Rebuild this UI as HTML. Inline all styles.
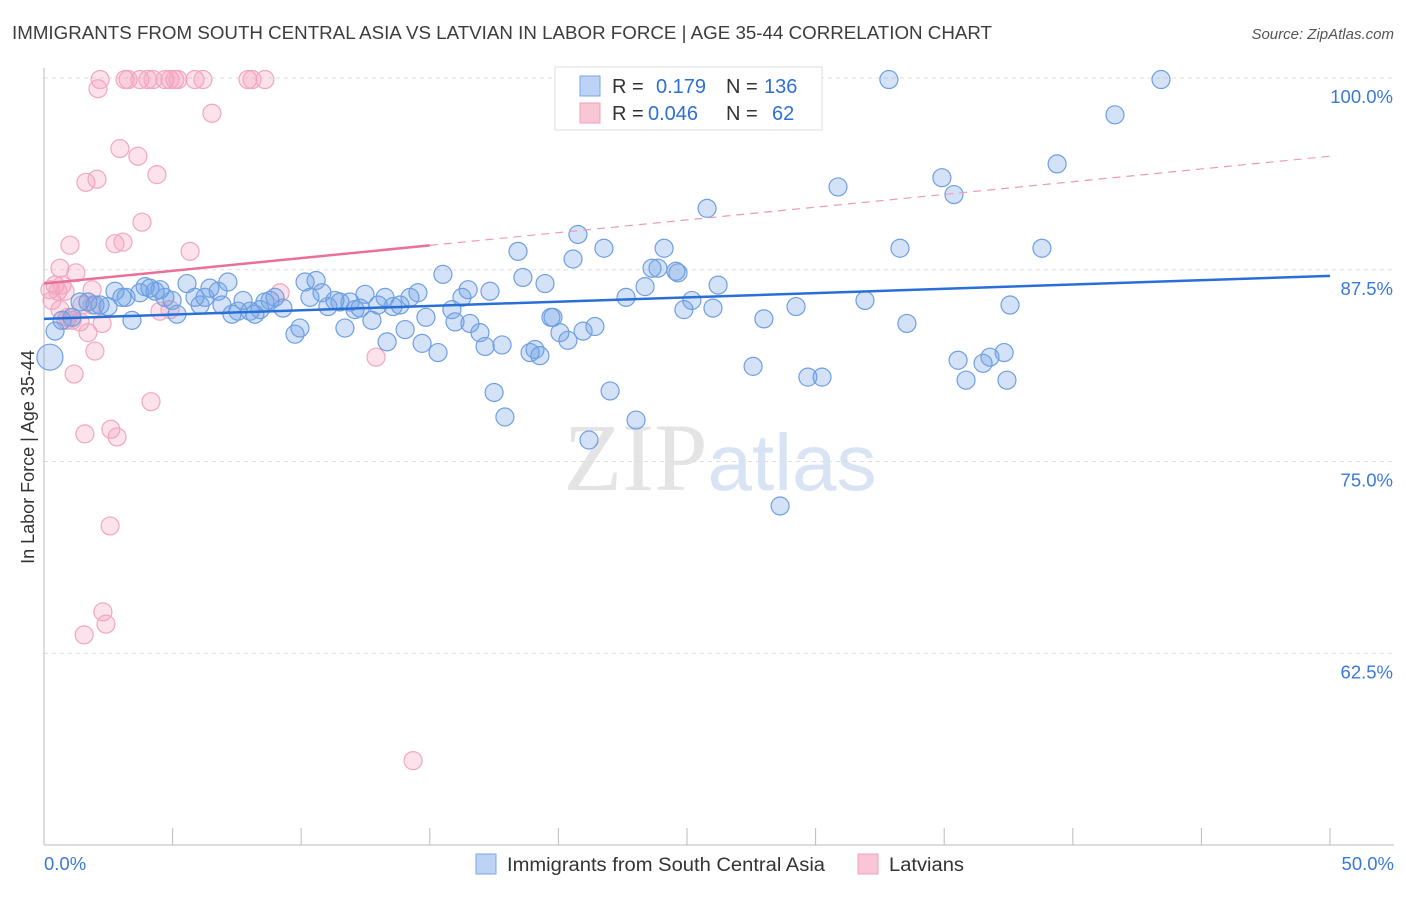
<!DOCTYPE html>
<html><head><meta charset="utf-8"><style>
body{margin:0;background:#fff;font-family:"Liberation Sans",sans-serif}
</style></head><body>
<svg id="chart" width="1406" height="892" xmlns="http://www.w3.org/2000/svg" font-family="Liberation Sans, sans-serif">
<text x="12" y="39" font-size="18" fill="#3c3c3c" textLength="980" lengthAdjust="spacingAndGlyphs">IMMIGRANTS FROM SOUTH CENTRAL ASIA VS LATVIAN IN LABOR FORCE | AGE 35-44 CORRELATION CHART</text>
<text x="1394" y="39" font-size="15" fill="#555" text-anchor="end" font-style="italic">Source: ZipAtlas.com</text>
<text x="720" y="490" font-size="96" text-anchor="middle" fill="#e4e4e4" font-family="Liberation Serif, serif">ZIP<tspan fill="#d8e4f4" font-family="Liberation Sans, sans-serif" font-size="80">atlas</tspan></text>
<text transform="translate(34,457) rotate(-90)" font-size="18" fill="#333" text-anchor="middle">In Labor Force | Age 35-44</text>
<g id="grid"></g>
<g id="axes"></g>
<g id="pts"></g>
<g id="trend"></g>
<g>
<rect x="555" y="67" width="267" height="63" fill="#fff" stroke="#ddd"/>
<rect x="580" y="76" width="20" height="20" fill="#bcd3f5" stroke="#7aa6e6"/>
<rect x="580" y="103" width="20" height="20" fill="#f9c6d6" stroke="#f0a0b8"/>
<text x="612" y="93" font-size="20" fill="#333">R = <tspan x="656" fill="#2e6fd6">0.179</tspan><tspan x="726" fill="#333">N = </tspan><tspan x="764" fill="#2e6fd6">136</tspan></text>
<text x="612" y="120" font-size="20" fill="#333">R = <tspan x="648" fill="#2e6fd6">0.046</tspan><tspan x="726" fill="#333">N = </tspan><tspan x="772" fill="#2e6fd6">62</tspan></text>
</g>
<g>
<rect x="476" y="854" width="20" height="20" fill="#bcd3f5" stroke="#7aa6e6"/>
<text x="507" y="871" font-size="19" fill="#333" textLength="318" lengthAdjust="spacingAndGlyphs">Immigrants from South Central Asia</text>
<rect x="858" y="854" width="20" height="20" fill="#f9c6d6" stroke="#f0a0b8"/>
<text x="889" y="871" font-size="19" fill="#333" textLength="75" lengthAdjust="spacingAndGlyphs">Latvians</text>
</g>
</svg>
<script>
const blueX=[.23,.43,.70,1.09,1.40,1.71,1.98,2.18,2.49,2.76,3.03,3.19,3.42,3.73,3.93,4.12,4.32,4.51,4.70,4.98,5.17,5.56,5.87,6.07,6.26,6.45,6.77,6.92,7.15,7.31,7.54,7.74,8.01,8.20,8.40,8.59,8.79,8.98,9.29,9.76,9.95,10.15,10.34,10.58,10.81,11.04,11.31,11.51,11.70,11.90,12.09,12.29,12.48,12.75,12.99,13.26,13.34,13.57,13.84,14.04,14.23,14.54,14.70,14.85,15.32,15.51,15.86,15.98,16.25,16.49,16.56,16.95,17.15,17.34,17.50,17.81,17.92,18.43,18.62,18.90,19.09,19.28,19.48,19.71,19.79,20.06,20.37,20.57,20.76,20.96,21.42,21.77,22.01,22.63,23.02,23.37,23.64,23.87,24.11,24.57,24.65,24.88,25.19,25.78,26.01,26.21,27.57,27.99,29.24,29.70,30.25,30.87,31.92,32.85,33.28,33.55,34.91,35.38,35.54,35.85,36.51,36.78,37.33,37.44,37.56,38.80,39.39,41.64,43.43,21.19,28.62];
const blueY=[81.8,83.5,84.2,84.4,85.4,85.4,85.2,85.2,85.1,86.1,85.7,85.7,84.2,86.0,86.4,86.3,86.1,86.2,85.7,85.5,84.6,86.6,85.7,85.2,85.7,86.3,86.1,85.2,86.7,84.6,84.8,85.5,84.8,84.6,84.9,85.4,85.5,85.7,85.0,83.3,83.7,86.7,85.7,86.8,86.0,85.1,85.5,85.4,83.7,85.4,84.9,85.0,85.9,84.2,85.2,85.7,82.8,85.1,85.2,83.6,85.7,86.0,82.7,84.4,82.1,87.2,84.9,84.1,85.7,86.2,84.0,83.4,82.5,86.1,79.5,82.6,77.9,88.7,87.0,82.1,82.3,81.9,86.6,84.4,84.4,83.4,82.9,88.2,89.8,83.5,83.8,88.9,79.6,85.7,77.7,86.4,87.6,87.6,88.9,87.4,87.3,84.9,85.5,91.5,85.0,86.5,81.2,84.3,85.1,80.5,80.5,92.9,85.5,99.9,88.9,84.0,93.5,92.4,81.6,80.3,81.4,81.8,82.1,80.3,85.2,88.9,94.4,97.6,99.9,76.4,72.1];
const pinkX=[.23,.31,.43,.54,.62,.70,.82,.93,1.01,1.09,1.17,1.24,1.40,1.48,1.56,1.59,1.63,1.71,1.87,1.98,2.06,2.10,2.18,2.26,2.29,2.41,2.57,2.60,2.76,2.84,2.95,3.07,3.15,3.27,3.65,3.73,3.81,4.04,4.16,4.24,4.39,4.70,4.90,5.09,5.21,5.68,5.87,6.18,6.53,7.93,8.09,8.59,12.91,14.35,9.18,4.51,4.90,.62,.86,1.87];
const pinkY=[86.2,85.5,86.5,86.1,87.6,86.5,86.1,84.4,89.1,84.2,80.7,87.3,84.1,85.2,63.7,76.8,93.2,83.4,85.2,82.2,93.4,99.3,99.9,84.0,65.2,64.4,70.8,77.1,89.2,76.6,95.4,89.3,99.9,99.9,94.9,99.9,90.6,99.9,78.9,99.9,93.7,99.9,99.9,99.9,99.9,88.7,99.9,99.9,97.7,99.9,99.9,99.9,81.8,55.5,86.0,84.8,84.9,84.9,84.2,86.2];
const yTicks=[100,87.5,75,62.5];
const yTickLabels=["100.0%","87.5%","75.0%","62.5%"];
const xTickVals=[0,5,10,15,20,25,30,35,40,45,50];
const blueTrend=[84.3,87.1];
const pinkTrend=[86.6,94.9];
const pinkSolidEnd=15;

const X0=44,X1=1330,Y0=845,Y1=78;
const sx=v=>X0+(v/50)*(X1-X0);
const sy=v=>Y0-((v-50)/50)*(Y0-Y1);
const NS="http://www.w3.org/2000/svg";
function mk(tag,attrs,parent){const e=document.createElementNS(NS,tag);for(const k in attrs)e.setAttribute(k,attrs[k]);parent.appendChild(e);return e;}
const grid=document.getElementById('grid'),axes=document.getElementById('axes'),pts=document.getElementById('pts'),trend=document.getElementById('trend');
yTicks.forEach((t,i)=>{
  const l=mk('line',{x1:X0,x2:1394,y1:sy(t),y2:sy(t),stroke:'#ddd','stroke-dasharray':'4,4'},grid);
  
  
  const tx=mk('text',{x:1393,y:sy(t)+25,'font-size':18.5,fill:'#3a78d8','text-anchor':'end'},grid);
  tx.textContent=yTickLabels[i];
  
  
});
const ya=mk('line',{x1:X0,x2:X0,y1:68,y2:Y0,stroke:'#bbb'},axes);


const xa=mk('line',{x1:X0,x2:1394,y1:Y0,y2:Y0,stroke:'#bbb'},axes);


xTickVals.forEach(v=>{
  const t=mk('line',{x1:sx(v),x2:sx(v),y1:828,y2:Y0,stroke:'#bbb'},axes);
  
  
});
const xl0=mk('text',{x:44,y:870,'font-size':18.5,fill:'#3a78d8'},axes);xl0.textContent='0.0%';


const xl1=mk('text',{x:1394,y:870,'font-size':18.5,fill:'#3a78d8','text-anchor':'end'},axes);xl1.textContent='50.0%';


pinkX.forEach((x,i)=>{
  const c=mk('circle',{cx:sx(x),cy:sy(pinkY[i]),r:9,fill:'rgba(245,160,190,0.3)',stroke:'#f2a6bf','stroke-width':1.2},pts);
  
  
});
blueX.forEach((x,i)=>{
  const c=mk('circle',{cx:sx(x),cy:sy(blueY[i]),r:i===0?13:9,fill:'rgba(110,160,230,0.3)',stroke:'#6f9fe2','stroke-width':1.2},pts);
  
  
});
const bl=mk('line',{x1:sx(0),y1:sy(blueTrend[0]),x2:sx(50),y2:sy(blueTrend[1]),stroke:'#2a6fd6','stroke-width':2.5},trend);


const pm=pinkTrend[0]+(pinkTrend[1]-pinkTrend[0])*pinkSolidEnd/50;
const pl=mk('line',{x1:sx(0),y1:sy(pinkTrend[0]),x2:sx(pinkSolidEnd),y2:sy(pm),stroke:'#e8709a','stroke-width':2.5},trend);


const pd=mk('line',{x1:sx(pinkSolidEnd),y1:sy(pm),x2:sx(50),y2:sy(pinkTrend[1]),stroke:'#eb9ab5','stroke-width':1.2,'stroke-dasharray':'8,6'},trend);


</script>
</body></html>
